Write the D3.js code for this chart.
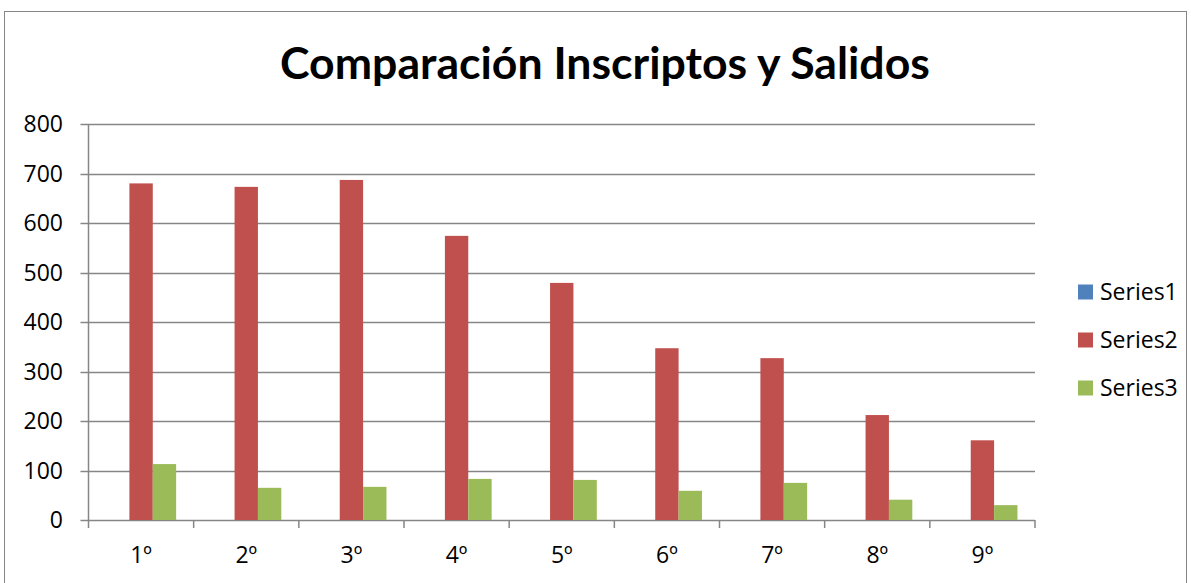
<!DOCTYPE html>
<html>
<head>
<meta charset="utf-8">
<script src="https://cdn.jsdelivr.net/npm/d3@7"></script>
<style>
	body { margin: 0; background: #fff; }
	text { font-family: "Open Sans", Lato, sans-serif; fill: #000; }
</style>
</head>
<body>
<div id="chart"></div>
<script>
var categories = ["1º", "2º", "3º", "4º", "5º", "6º", "7º", "8º", "9º"];
var seriesNames = ["Series1", "Series2", "Series3"];
var series1 = [0, 0, 0, 0, 0, 0, 0, 0, 0];
var series2 = [680, 673, 687, 574, 479, 347, 327, 212, 161];
var series3 = [113, 65, 67, 83, 81, 59, 75, 41, 30];
var yTicks = [0, 100, 200, 300, 400, 500, 600, 700, 800];
var colors = ["#4F81BD", "#C0504D", "#9BBB59"];

var layout = {
	w: 1191,
	h: 583,
	left: 88.5,
	right: 1035,
	top: 124,
	bottom: 520
}

var svg = d3.select("#chart")
			.append("svg")
			.attr("width", layout.w)
			.attr("height", layout.h);

// chart border
svg.append("rect")
	.attr("x", 4.5)
	.attr("y", 11.5)
	.attr("width", 1182)
	.attr("height", 590)
	.style("fill", "none")
	.style("stroke", "#868686")
	.style("stroke-width", 1);

var xScale = d3.scaleBand().domain(categories).range([layout.left, layout.right]),
	xInner = d3.scaleBand().domain(seriesNames).range([0, xScale.bandwidth()]).paddingInner(0).paddingOuter(0.75),
	yScale = d3.scaleLinear().domain([0, 800]).range([layout.bottom, layout.top]);

// gridlines
svg.append("g")
	.selectAll("line")
	.data(yTicks)
	.enter().append("line")
	.attr("x1", layout.left - 8)
	.attr("x2", layout.right)
	.attr("y1", function(d){ return Math.round(yScale(d)) + 0.5; })
	.attr("y2", function(d){ return Math.round(yScale(d)) + 0.5; })
	.style("stroke", "#868686")
	.style("stroke-width", 1.5);

// y labels
svg.append("g")
	.selectAll("text")
	.data(yTicks)
	.enter().append("text")
	.attr("x", 63)
	.attr("y", function(d){ return yScale(d); })
	.attr("dy", "0.36em")
	.attr("text-anchor", "end")
	.style("font-size", "23px")
	.text(function(d){ return d; });

// bars
var data = [series1, series2, series3];
var groups = svg.append("g")
				.selectAll("g")
				.data(seriesNames)
				.enter().append("g")
				.style("fill", function(d, i){ return colors[i]; });

groups.selectAll("rect")
	.data(function(d, i){ return data[i].map(function(v, j){ return {s: d, c: categories[j], v: v}; }); })
	.enter().append("rect")
	.filter(function(d){ return d.v > 0; })
	.attr("x", function(d){ return xScale(d.c) + xInner(d.s); })
	.attr("width", xInner.bandwidth())
	.attr("y", function(d){ return yScale(d.v); })
	.attr("height", function(d){ return yScale(0) - yScale(d.v); });

// y axis line
svg.append("line")
	.attr("x1", layout.left).attr("x2", layout.left)
	.attr("y1", layout.top).attr("y2", layout.bottom)
	.style("stroke", "#868686")
	.style("stroke-width", 1.5);

// x axis
var xTickPos = categories.map(function(c){ return xScale(c); }).concat([layout.right]);
svg.append("g")
	.selectAll("line")
	.data(xTickPos)
	.enter().append("line")
	.attr("x1", function(d){ return d; })
	.attr("x2", function(d){ return d; })
	.attr("y1", layout.bottom)
	.attr("y2", layout.bottom + 8)
	.style("stroke", "#868686")
	.style("stroke-width", 1.5);

svg.append("g")
	.selectAll("text")
	.data(categories)
	.enter().append("text")
	.attr("x", function(d){ return xScale(d) + xScale.bandwidth() / 2; })
	.attr("y", 555)
	.attr("dy", "0.36em")
	.attr("text-anchor", "middle")
	.style("font-size", "23px")
	.text(function(d){ return d; });

// title
var title = svg.append("text")
	.attr("x", 605)
	.attr("y", 79)
	.attr("text-anchor", "middle")
	.style("font-family", "Lato, sans-serif")
	.style("font-size", "40px")
	.style("font-weight", "bold")
	.text("Comparación Inscriptos y Salidos");
var tw = title.node().getComputedTextLength();
title.style("font-size", (40 * 650 / tw) + "px");

// legend
var legend = svg.append("g")
				.selectAll("g")
				.data(seriesNames)
				.enter().append("g")
				.attr("transform", function(d, i){ return "translate(1078," + (292 + i * 48) + ")"; });

legend.append("rect")
	.attr("x", 0)
	.attr("y", -7.5)
	.attr("width", 15)
	.attr("height", 15)
	.style("fill", function(d, i){ return colors[i]; });

legend.append("text")
	.attr("x", 22)
	.attr("y", 0)
	.attr("dy", "0.36em")
	.style("font-size", "23px")
	.text(function(d){ return d; });
</script>
</body>
</html>
